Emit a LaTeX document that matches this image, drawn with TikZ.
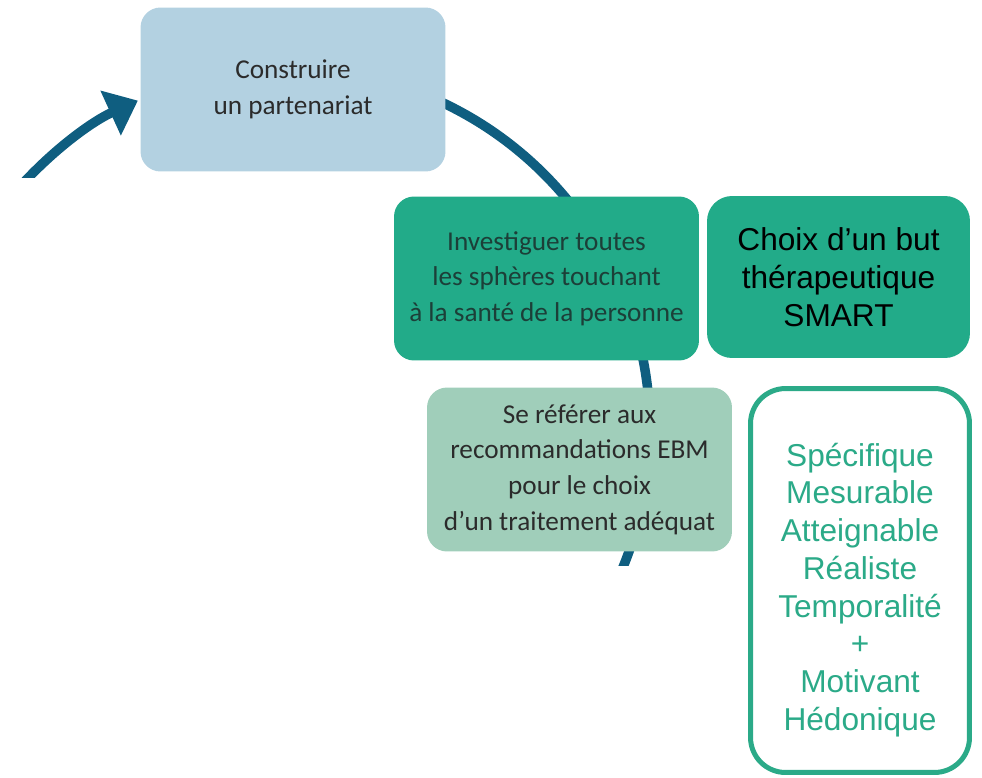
\documentclass[tikz,border=0pt]{standalone}
\usepackage{fontspec}
\setmainfont{Carlito}
\newfontfamily\arialfont{Liberation Sans}
\usetikzlibrary{arrows.meta}

\definecolor{cyclearc}{HTML}{0F5E80}
\definecolor{boxblue}{HTML}{B3D1E1}
\definecolor{boxgreen}{HTML}{22AB89}
\definecolor{boxpale}{HTML}{A0CEBA}
\definecolor{smartgreen}{HTML}{2BAA88}
\definecolor{boxtext}{HTML}{2B2B2B}
\definecolor{darkgreentext}{HTML}{1C3F38}

\begin{document}
\begin{tikzpicture}[x=0.02cm,y=-0.02cm,
    cycle/.style={cyclearc,line width=0.19cm},
    stepbox/.style={rounded corners=0.4cm,inner sep=0pt,minimum width=6.1cm,
      minimum height=3.28cm,align=center,text=boxtext,
      font=\fontsize{15.5}{20.3}\selectfont},
    goalbox/.style={rounded corners=0.5cm,inner sep=0pt,minimum width=5.26cm,
      minimum height=3.24cm,align=center,fill=boxgreen,text=black,
      font=\arialfont\fontsize{18}{21.6}\selectfont},
    smartbox/.style={draw=smartgreen,line width=0.1cm,rounded corners=0.7cm,
      fill=white,inner sep=0pt,minimum width=4.38cm,minimum height=7.68cm,
      align=center,text=smartgreen,font=\arialfont\fontsize{18}{21.5}\selectfont}]
  \useasboundingbox (0,0) rectangle (982,777);
  \coordinate (c) at (288,430);

  % the cycle, cut by the frame
  \begin{scope}
    \clip (0,0) rectangle (982,177);
    \draw[cycle,-{Triangle[length=0.6cm,width=0.95cm]}]
      ([shift={(-140:362)}]c) arc (-140:-114.5:362);
  \end{scope}
  \begin{scope}
    \clip (0,0) rectangle (982,565);
    \draw[cycle] ([shift={(-70:362)}]c) arc (-70:25:362);
  \end{scope}

  \node[stepbox,fill=boxblue] (build) at (293,89.5) {Construire\\un partenariat};
  \node[stepbox,fill=boxgreen,text=darkgreentext] (explore) at (546.5,278.5)
    {Investiguer toutes\\les sphères touchant\\à la santé de la personne};
  \node[goalbox] (goal) at (838.5,277) {Choix d’un but\\thérapeutique\\SMART};
  \node[stepbox,fill=boxpale] (ebm) at (579.5,469.5)
    {Se référer aux\\recommandations EBM\\pour le choix\\d’un traitement adéquat};
  \node[smartbox] (smart) at (860,580.5)
    {\rule{0pt}{24pt}Spécifique\\Mesurable\\Atteignable\\Réaliste\\Temporalité\\+\\Motivant\\Hédonique};
\end{tikzpicture}
\end{document}
